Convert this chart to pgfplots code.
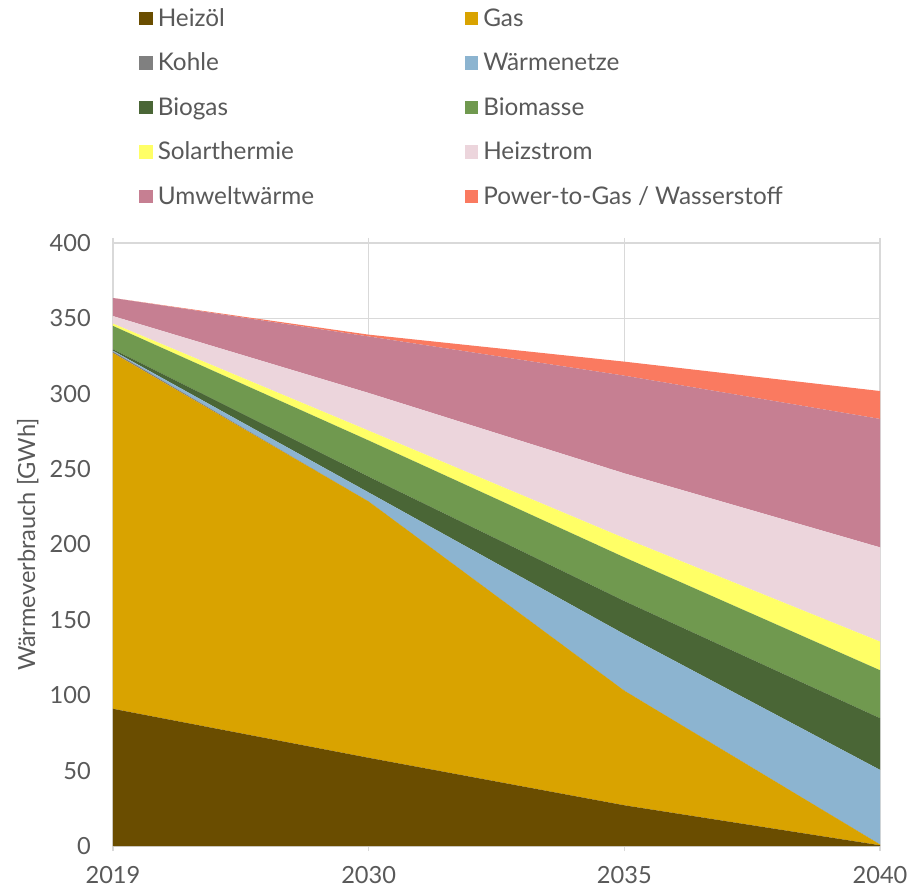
\documentclass[border=0pt]{standalone}
\usepackage{fontspec}
\setmainfont{Lato}
\usepackage{pgfplots}
\pgfplotsset{compat=1.18}

\definecolor{txt}{HTML}{595959}
\definecolor{gridc}{HTML}{D9D9D9}
\definecolor{cOel}{HTML}{6A4D00}
\definecolor{cGas}{HTML}{D9A300}
\definecolor{cKohle}{HTML}{808080}
\definecolor{cNetz}{HTML}{8CB4D0}
\definecolor{cBiogas}{HTML}{4A6636}
\definecolor{cBiomasse}{HTML}{70994F}
\definecolor{cSolar}{HTML}{FFFF66}
\definecolor{cStrom}{HTML}{ECD5DC}
\definecolor{cUmwelt}{HTML}{C67F92}
\definecolor{cPtG}{HTML}{FA7A60}

% Heat consumption in GWh per source; x = 0..3 stands for 2019, 2030, 2035, 2040
\newcommand{\lbox}[1]{\makebox[302bp][l]{#1}}

\begin{document}
\begin{tikzpicture}
\begin{axis}[
  at={(0,0)}, anchor=origin,
  scale only axis,
  width=767bp, height=603bp,
  font=\fontsize{23.7pt}{28pt}\selectfont,
  xmin=0, xmax=3, ymin=0, ymax=400,
  xtick={0,1,2,3},
  xticklabels={2019,2030,2035,2040},
  ytick={0,50,...,400},
  /pgf/number format/assume math mode=true,
  tick label style={color=txt},
  tick align=outside,
  major tick length=5bp,
  ytick style={draw=none},
  xtick style={gridc, line width=1.5bp},
  yticklabel style={inner sep=0pt, xshift=-17bp},
  xticklabel style={inner sep=0pt, yshift=-15bp},
  grid=major,
  major grid style={gridc, line width=1.5bp},
  axis line style={gridc, line width=1.5bp},
  ylabel={Wärmeverbrauch [GWh]},
  ylabel style={color=txt, at={(axis description cs:-0.111,0.5)}, anchor=center, rotate=0},
  stack plots=y,
  legend columns=2,
  legend cell align=left,
  legend style={
    at={(axis description cs:0.034,1.391)}, anchor=north west,
    draw=none, fill=none, inner sep=0pt,
    column sep=5bp, row sep=22.5bp,
    nodes={inner sep=0pt, text height=18.8bp, text depth=3.2bp, text=txt},
    font=\fontsize{24.4pt}{28pt}\selectfont,
  },
  legend image code/.code={\path[#1] (0bp,-6.75bp) rectangle (13.5bp,6.75bp);},
]
\addplot[fill=cOel, draw=none] coordinates {(0,91) (1,58.5) (2,27) (3,0.5)} \closedcycle;
\addlegendentry{\lbox{Heizöl}}
\addplot[fill=cGas, draw=none] coordinates {(0,236) (1,170) (2,76) (3,0.5)} \closedcycle;
\addlegendentry{Gas}
\addplot[fill=cKohle, draw=none] coordinates {(0,1) (1,0) (2,0) (3,0)} \closedcycle;
\addlegendentry{\lbox{Kohle}}
\addplot[fill=cNetz, draw=none] coordinates {(0,0.5) (1,6) (2,37.5) (3,49.5)} \closedcycle;
\addlegendentry{Wärmenetze}
\addplot[fill=cBiogas, draw=none] coordinates {(0,1) (1,10.5) (2,22) (3,34.3)} \closedcycle;
\addlegendentry{\lbox{Biogas}}
\addplot[fill=cBiomasse, draw=none] coordinates {(0,15.5) (1,24) (2,29) (3,31.8)} \closedcycle;
\addlegendentry{Biomasse}
\addplot[fill=cSolar, draw=none] coordinates {(0,1.5) (1,6.5) (2,12.7) (3,19)} \closedcycle;
\addlegendentry{\lbox{Solarthermie}}
\addplot[fill=cStrom, draw=none] coordinates {(0,5) (1,25) (2,43) (3,62.5)} \closedcycle;
\addlegendentry{Heizstrom}
\addplot[fill=cUmwelt, draw=none] coordinates {(0,12) (1,37.5) (2,64.8) (3,85.2)} \closedcycle;
\addlegendentry{\lbox{Umweltwärme}}
\addplot[fill=cPtG, draw=none] coordinates {(0,0) (1,1.2) (2,9.3) (3,18.5)} \closedcycle;
\addlegendentry{Power-to-Gas / Wasserstoff}
\end{axis}
\pgfresetboundingbox
\path (-113bp,-43bp) rectangle (799bp,846bp);
\end{tikzpicture}
\end{document}
